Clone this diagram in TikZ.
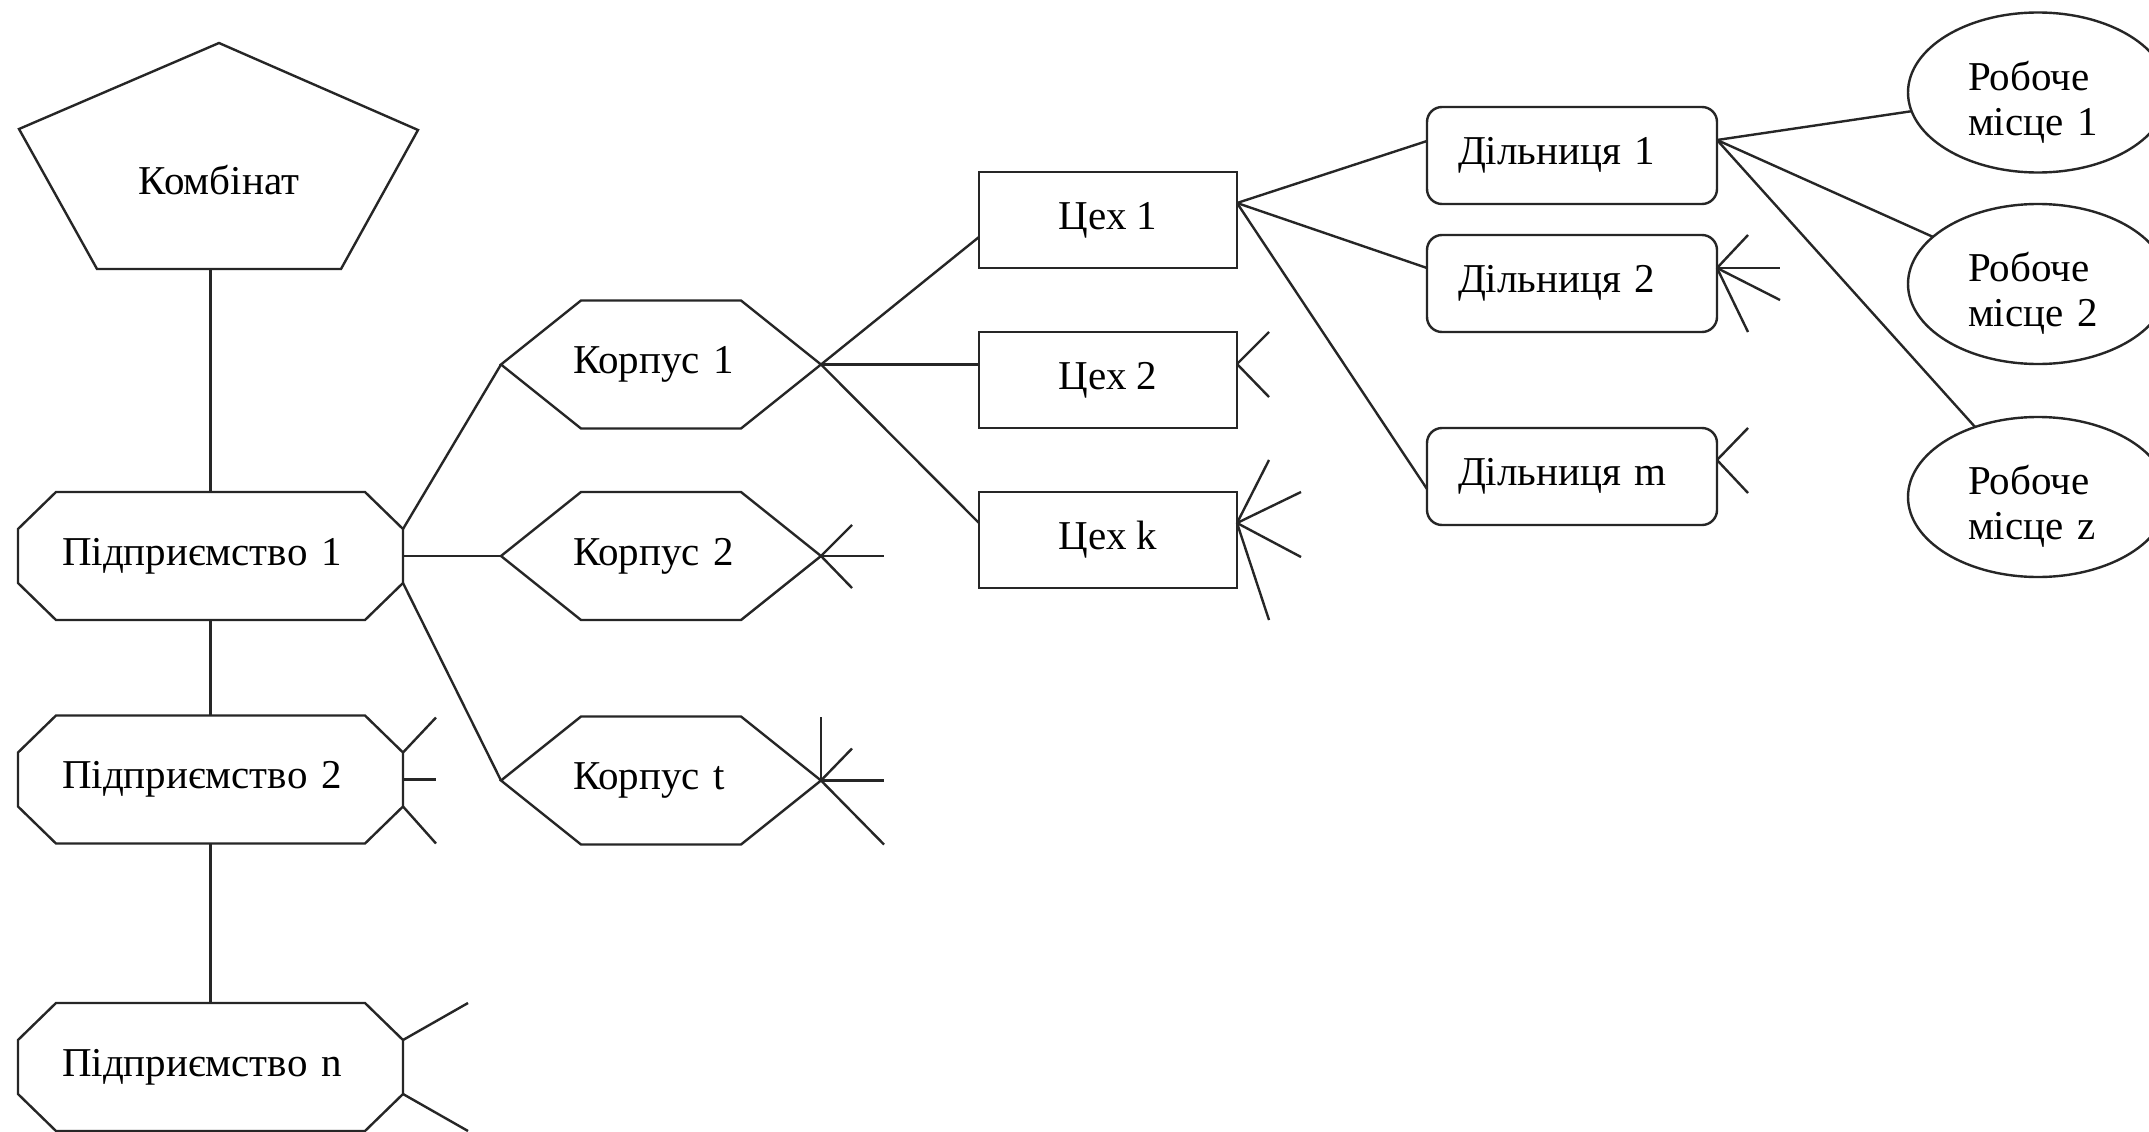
\documentclass[tikz,border=0pt]{standalone}
\usepackage{fontspec}
\setmainfont{Liberation Serif}
\usetikzlibrary{calc,shapes.geometric}
\newcommand\octpath[1]{\draw ($(#1.north west)+(38,0)$) -- ($(#1.north east)+(-38,0)$) -- ($(#1.north east)+(0,37)$) -- ($(#1.south east)+(0,-37)$) -- ($(#1.south east)+(-38,0)$) -- ($(#1.south west)+(38,0)$) -- ($(#1.south west)+(0,-37)$) -- ($(#1.north west)+(0,37)$) -- cycle;}
\newcommand\hexpath[1]{\draw (#1.west) -- ($(#1.north west)+(80,0)$) -- ($(#1.north east)+(-80,0)$) -- (#1.east) -- ($(#1.south east)+(-80,0)$) -- ($(#1.south west)+(80,0)$) -- cycle;}
\newcommand\placetop{\rule{0pt}{48pt}}
\begin{document}
\begin{tikzpicture}[x=1pt,y=-1pt,line width=2.4pt,color=black!85,
  every node/.style={font=\fontsize{41}{45}\selectfont,outer sep=0pt,inner sep=0pt,text=black},
  octbox/.style={minimum width=385pt,minimum height=128pt,inner xsep=44pt,text width=297pt,align=left},
  hexbox/.style={minimum width=320pt,minimum height=128pt,inner xsep=72pt,text width=176pt,align=left},
  cexbox/.style={draw,minimum width=258pt,minimum height=96pt},
  dilbox/.style={draw,rounded corners=15pt,minimum width=290pt,minimum height=97pt,inner xsep=31pt,text width=228pt,align=left},
  placebox/.style={draw,ellipse,minimum width=260pt,minimum height=160pt,text width=140pt,align=left}]
\clip (0,0) rectangle (2149,1132);
\fill[white] (0,0) rectangle (2149,1132);

% nodes
\node (komb) at (219,180) {Комбінат};
\node[octbox] (p1) at (210.5,556) {Підприємство 1};
\node[octbox] (p2) at (210.5,779.5) {Підприємство 2};
\node[octbox] (pn) at (210.5,1067) {Підприємство n};
\node[hexbox] (k1) at (661,364.5) {Корпус 1};
\node[hexbox] (k2) at (661,556) {Корпус 2};
\node[hexbox] (kt) at (661,780.5) {Корпус t};
\node[cexbox] (c1) at (1108,220) {Цех 1};
\node[cexbox] (c2) at (1108,380) {Цех 2};
\node[cexbox] (ck) at (1108,540) {Цех k};
\node[dilbox] (d1) at (1572,155.5) {Дільниця 1};
\node[dilbox] (d2) at (1572,283.5) {Дільниця 2};
\node[dilbox] (dm) at (1572,476.5) {Дільниця m};
\node[placebox] (e1) at (2038,92.5) {\placetop Робоче\\місце 1};
\node[placebox] (e2) at (2038,284) {\placetop Робоче\\місце 2};
\node[placebox] (ez) at (2038,497) {\placetop Робоче\\місце z};

% outlines
\draw ($(komb)+(0,-137)$) -- ($(komb)+(199,-50)$) -- ($(komb)+(122,89)$) -- ($(komb)+(-122,89)$) -- ($(komb)+(-200,-51)$) -- cycle;
\coordinate (kb) at ($(komb)+(0,89)$);
\octpath{p1}
\octpath{p2}
\octpath{pn}
\hexpath{k1}
\hexpath{k2}
\hexpath{kt}

% vertical chain
\draw (kb -| p1.north) -- (p1.north);
\draw (p1.south) -- (p2.north);
\draw (p2.south) -- (pn.north);

% Підприємство 1 -> Корпуси
\draw ($(p1.north east)+(0,37)$) -- (k1.west);
\draw (p1.east) -- (k2.west);
\draw ($(p1.south east)+(0,-37)$) -- (kt.west);

% spikes Підприємство 2, n
\draw ($(p2.north east)+(0,37)$) -- ++(33,-35);
\draw (p2.east) -- ++(33,0);
\draw ($(p2.south east)+(0,-37)$) -- ++(33,37);
\draw ($(pn.north east)+(0,37)$) -- ++(65,-37);
\draw ($(pn.south east)+(0,-37)$) -- ++(65,37);

% spikes Корпус 2, t
\draw (k2.east) -- ++(31,-31);
\draw (k2.east) -- ++(63,0);
\draw (k2.east) -- ++(31,32);
\draw (kt.east) -- ++(0,-64);
\draw (kt.east) -- ++(31,-32);
\draw (kt.east) -- ++(63,0);
\draw (kt.east) -- ++(63,64);

% Корпус 1 -> Цехи
\draw (k1.east) -- ($(c1.west)+(0,17)$);
\draw (k1.east) -- (k1.east -| c2.west);
\draw (k1.east) -- ($(ck.west)+(0,-17)$);

% spikes Цех 2, k
\coordinate (c2s) at ($(c2.east)+(0,-16)$);
\draw (c2s) -- ++(32,-32);
\draw (c2s) -- ++(32,33);
\coordinate (cks) at ($(ck.east)+(0,-17)$);
\draw (cks) -- ++(32,-63);
\draw (cks) -- ++(64,-31);
\draw (cks) -- ++(64,34);
\draw (cks) -- ++(32,97);

% Цех 1 -> Дільниці
\coordinate (c1s) at ($(c1.east)+(0,-17)$);
\draw (c1s) -- ($(d1.west)+(0,-14.5)$);
\draw (c1s) -- ($(d2.west)+(0,-15.5)$);
\draw (c1s) -- ($(dm.west)+(0,12.5)$);

% spikes Дільниця 2, m
\coordinate (d2s) at ($(d2.east)+(0,-15.5)$);
\draw (d2s) -- ++(31,-33);
\draw (d2s) -- ++(63,0);
\draw (d2s) -- ++(63,32);
\draw (d2s) -- ++(31,64);
\coordinate (dms) at ($(dm.east)+(0,-16.5)$);
\draw (dms) -- ++(31,-32);
\draw (dms) -- ++(31,33);

% Дільниця 1 -> Робочі місця
\coordinate (d1s) at ($(d1.east)+(0,-15.5)$);
\draw (d1s) -- (e1);
\draw (d1s) -- (e2);
\draw (d1s) -- (ez);
\end{tikzpicture}
\end{document}
